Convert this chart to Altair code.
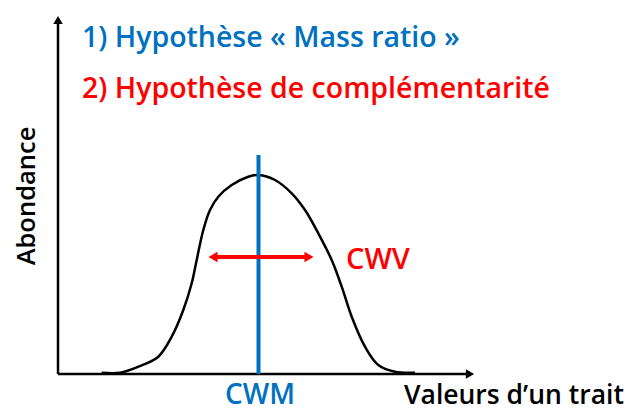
import altair as alt
import pandas as pd

# Curve (trait value vs abundance); origin at the axes corner
trait = [43.7, 62, 80.3, 100.3, 113.7, 125.3, 133.7, 138.7, 145.3, 152, 160.3, 173.7, 190.3, 200.3,
         217, 233.7, 247, 260.3, 273.7, 283.7, 293.7, 307, 320.3, 337, 357]
abund = [1.3, 1.3, 7.3, 17.3, 37.3, 64, 90.7, 114, 144, 164, 177.3, 189, 197.3, 199,
         194, 180.7, 164, 140.7, 114, 87.3, 57.3, 27.3, 9, 2.3, 1.3]

cwm_value = 200.5          # community weighted mean (blue line)
cwm_top = 219              # top of the blue line
cwv_low, cwv_high = 150, 256   # spread arrow (CWV)
cwv_level = 117
x_axis_end = 417
y_axis_end = 359

hyp1 = "1) Hypothèse « Mass ratio »"
hyp2 = "2) Hypothèse de complémentarité"
lab_cwv = "CWV"
lab_cwm = "CWM"
lab_x = "Valeurs d’un trait"
lab_y = "Abondance"

BLUE = "#0070C0"
RED = "#FF0000"
FONT = "Open Sans"

xs = alt.Scale(domain=[-50, 576], nice=False, zero=False)
ys = alt.Scale(domain=[-37, 366], nice=False, zero=False)
X = lambda f: alt.X(f, type="quantitative", scale=xs, axis=None)
Y = lambda f: alt.Y(f, type="quantitative", scale=ys, axis=None)

curve_df = pd.DataFrame({"t": trait, "a": abund, "o": range(len(trait))})
curve = alt.Chart(curve_df).mark_line(color="black", strokeWidth=2.5, interpolate="catmull-rom").encode(
    x=X("t"), y=Y("a"), order="o:Q")

axes_df = pd.DataFrame({"x": [0, 0], "y": [0, 0], "x2": [x_axis_end - 6, 0], "y2": [0, y_axis_end - 6]})
axes = alt.Chart(axes_df).mark_rule(color="black", strokeWidth=2.5).encode(
    x=X("x"), y=Y("y"), x2="x2", y2="y2")

heads_df = pd.DataFrame({"x": [x_axis_end - 5, 0], "y": [0, y_axis_end - 5],
                         "s": ["triangle-right", "triangle-up"]})
heads = alt.Chart(heads_df).mark_point(filled=True, opacity=1, color="black", size=90).encode(
    x=X("x"), y=Y("y"), shape=alt.Shape("s:N", scale=None))

cwm_df = pd.DataFrame({"x": [cwm_value], "y": [0], "y2": [cwm_top]})
cwm_rule = alt.Chart(cwm_df).mark_rule(color=BLUE, strokeWidth=4).encode(
    x=X("x"), y=Y("y"), y2="y2")

cwv_df = pd.DataFrame({"x": [cwv_low + 6], "x2": [cwv_high - 6], "y": [cwv_level]})
cwv_rule = alt.Chart(cwv_df).mark_rule(color=RED, strokeWidth=4).encode(
    x=X("x"), x2="x2", y=Y("y"))
cwv_heads_df = pd.DataFrame({"x": [cwv_low + 5, cwv_high - 5], "y": [cwv_level, cwv_level],
                             "s": ["triangle-left", "triangle-right"]})
cwv_heads = alt.Chart(cwv_heads_df).mark_point(filled=True, opacity=1, color=RED, size=110).encode(
    x=X("x"), y=Y("y"), shape=alt.Shape("s:N", scale=None))


def label(text, x, y, color, align="left", angle=0, size=26, weight=600):
    df = pd.DataFrame({"x": [x], "y": [y], "t": [text]})
    return alt.Chart(df).mark_text(align=align, baseline="alphabetic", color=color, font=FONT,
                                   fontSize=size, fontWeight=weight, angle=angle).encode(
        x=X("x"), y=Y("y"), text="t:N")


texts = [
    label(hyp1, 24, 327, BLUE, size=28.5),
    label(hyp2, 24, 276, RED, size=28.5),
    label(lab_cwv, 288, 105, RED, size=29),
    label(lab_cwm, 202, -30, BLUE, align="center", size=28),
    label(lab_x, 346, -30, "black", size=26.5),
    label(lab_y, -23, 178, "black", align="center", angle=270, size=25.5),
]

chart = alt.layer(axes, heads, curve, cwm_rule, cwv_rule, cwv_heads, *texts).properties(
    width=626, height=403, padding=0, autosize=alt.AutoSizeParams(type="none")
).configure_view(stroke=None)

chart.save("out.html", embed_options={"renderer": "svg", "actions": False})
